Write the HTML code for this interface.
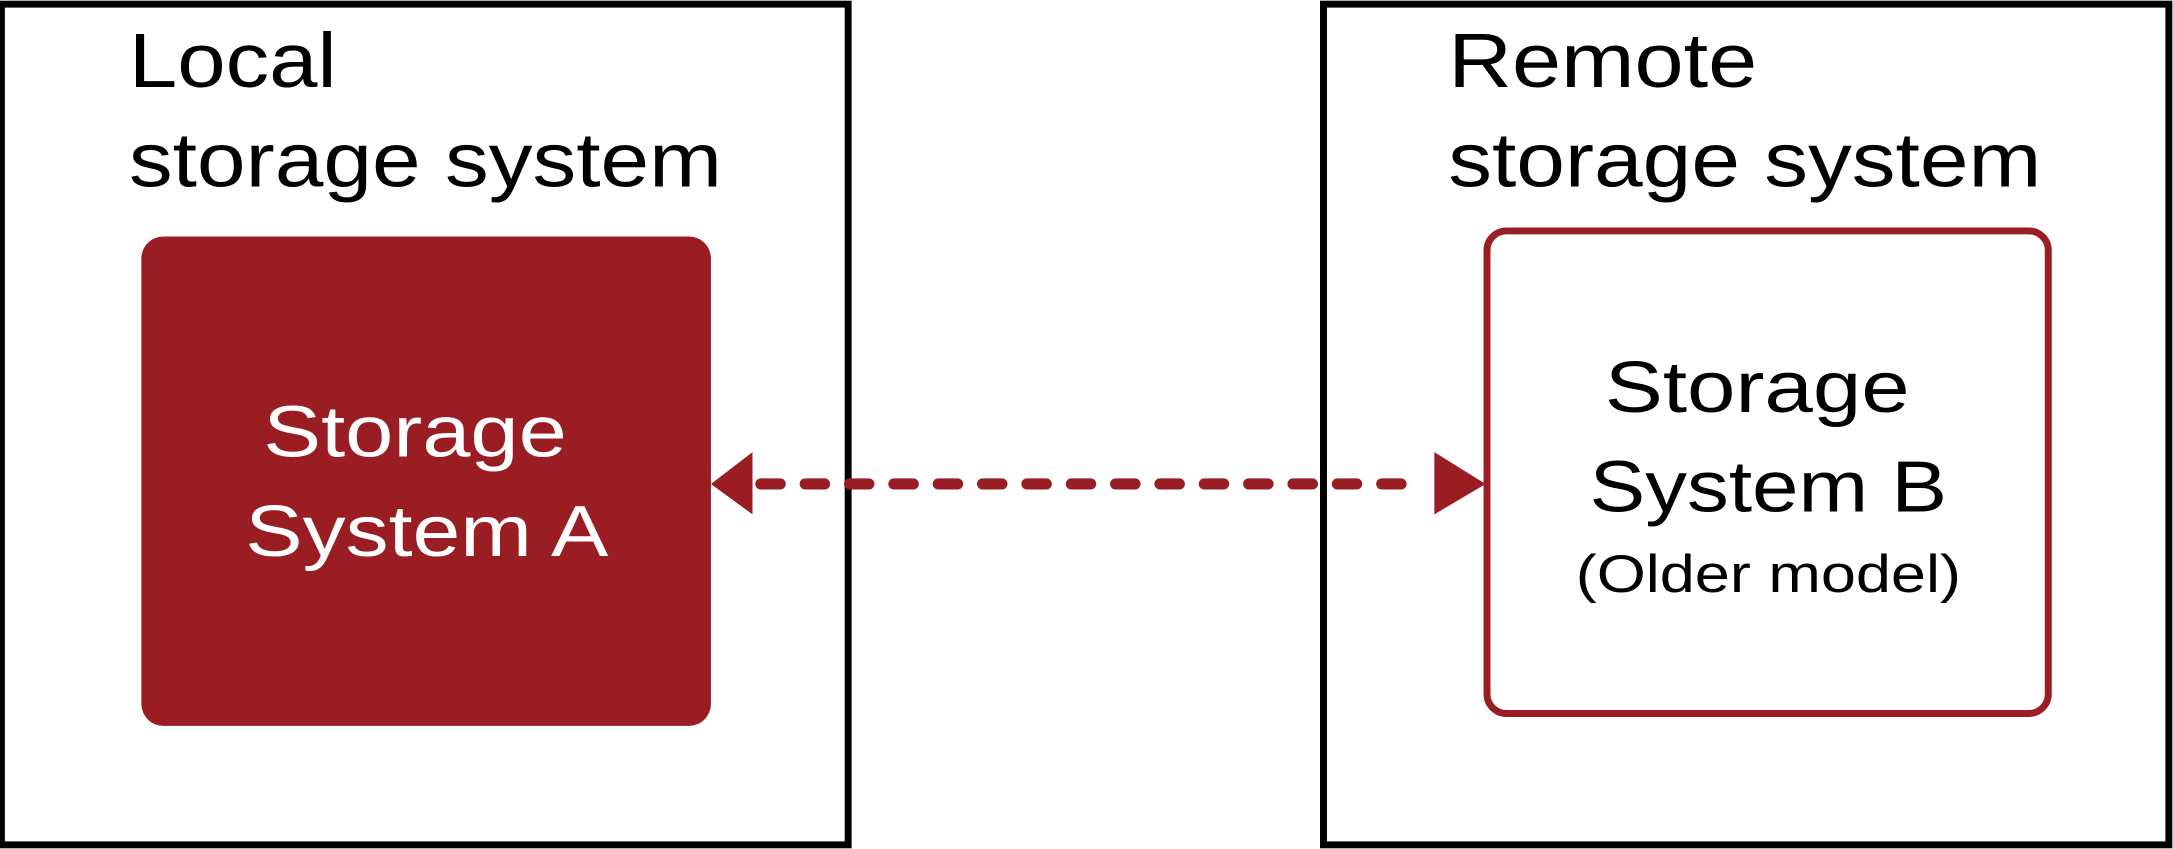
<!DOCTYPE html>
<html><head><meta charset="utf-8"><style>
html,body{margin:0;padding:0;background:#fff;}
svg{display:block;}
text{font-family:"Liberation Sans","DejaVu Sans",sans-serif;}
</style></head><body>
<svg width="2173" height="849" viewBox="0 0 1568 614" preserveAspectRatio="none" xmlns="http://www.w3.org/2000/svg">
<rect x="0" y="0" width="1568" height="614" fill="#fff"/>
<rect x="1" y="3" width="611" height="608" fill="none" stroke="#000" stroke-width="5"/>
<rect x="955" y="3" width="610" height="608" fill="none" stroke="#000" stroke-width="5"/>
<text x="93" y="63" font-size="56" fill="#000" textLength="150" lengthAdjust="spacingAndGlyphs">Local</text>
<text x="93" y="135" font-size="56" fill="#000" textLength="428" lengthAdjust="spacingAndGlyphs">storage system</text>
<text x="1045" y="63" font-size="56" fill="#000" textLength="223" lengthAdjust="spacingAndGlyphs">Remote</text>
<text x="1045" y="135" font-size="56" fill="#000" textLength="428" lengthAdjust="spacingAndGlyphs">storage system</text>
<rect x="102" y="171" width="411" height="354" rx="16" fill="#9a1d24"/>
<text x="190" y="330" font-size="52" fill="#fff" textLength="219" lengthAdjust="spacingAndGlyphs">Storage</text>
<text x="177" y="402" font-size="52" fill="#fff" textLength="262" lengthAdjust="spacingAndGlyphs">System A</text>
<rect x="1073" y="167" width="405" height="349" rx="14" fill="#fff" stroke="#9a1d24" stroke-width="5"/>
<text x="1158" y="298" font-size="52" fill="#000" textLength="220" lengthAdjust="spacingAndGlyphs">Storage</text>
<text x="1147" y="370" font-size="52" fill="#000" textLength="258" lengthAdjust="spacingAndGlyphs">System B</text>
<text x="1137" y="428" font-size="38" fill="#000" textLength="278" lengthAdjust="spacingAndGlyphs">(Older model)</text>
<line x1="549" y1="350" x2="1028" y2="350" stroke="#9a1d24" stroke-width="8" stroke-linecap="round" stroke-dasharray="14 18"/>
<polygon points="513,350 543,327 543,372" fill="#9a1d24"/>
<polygon points="1072,350 1035,327 1035,372" fill="#9a1d24"/>
</svg>
</body></html>
